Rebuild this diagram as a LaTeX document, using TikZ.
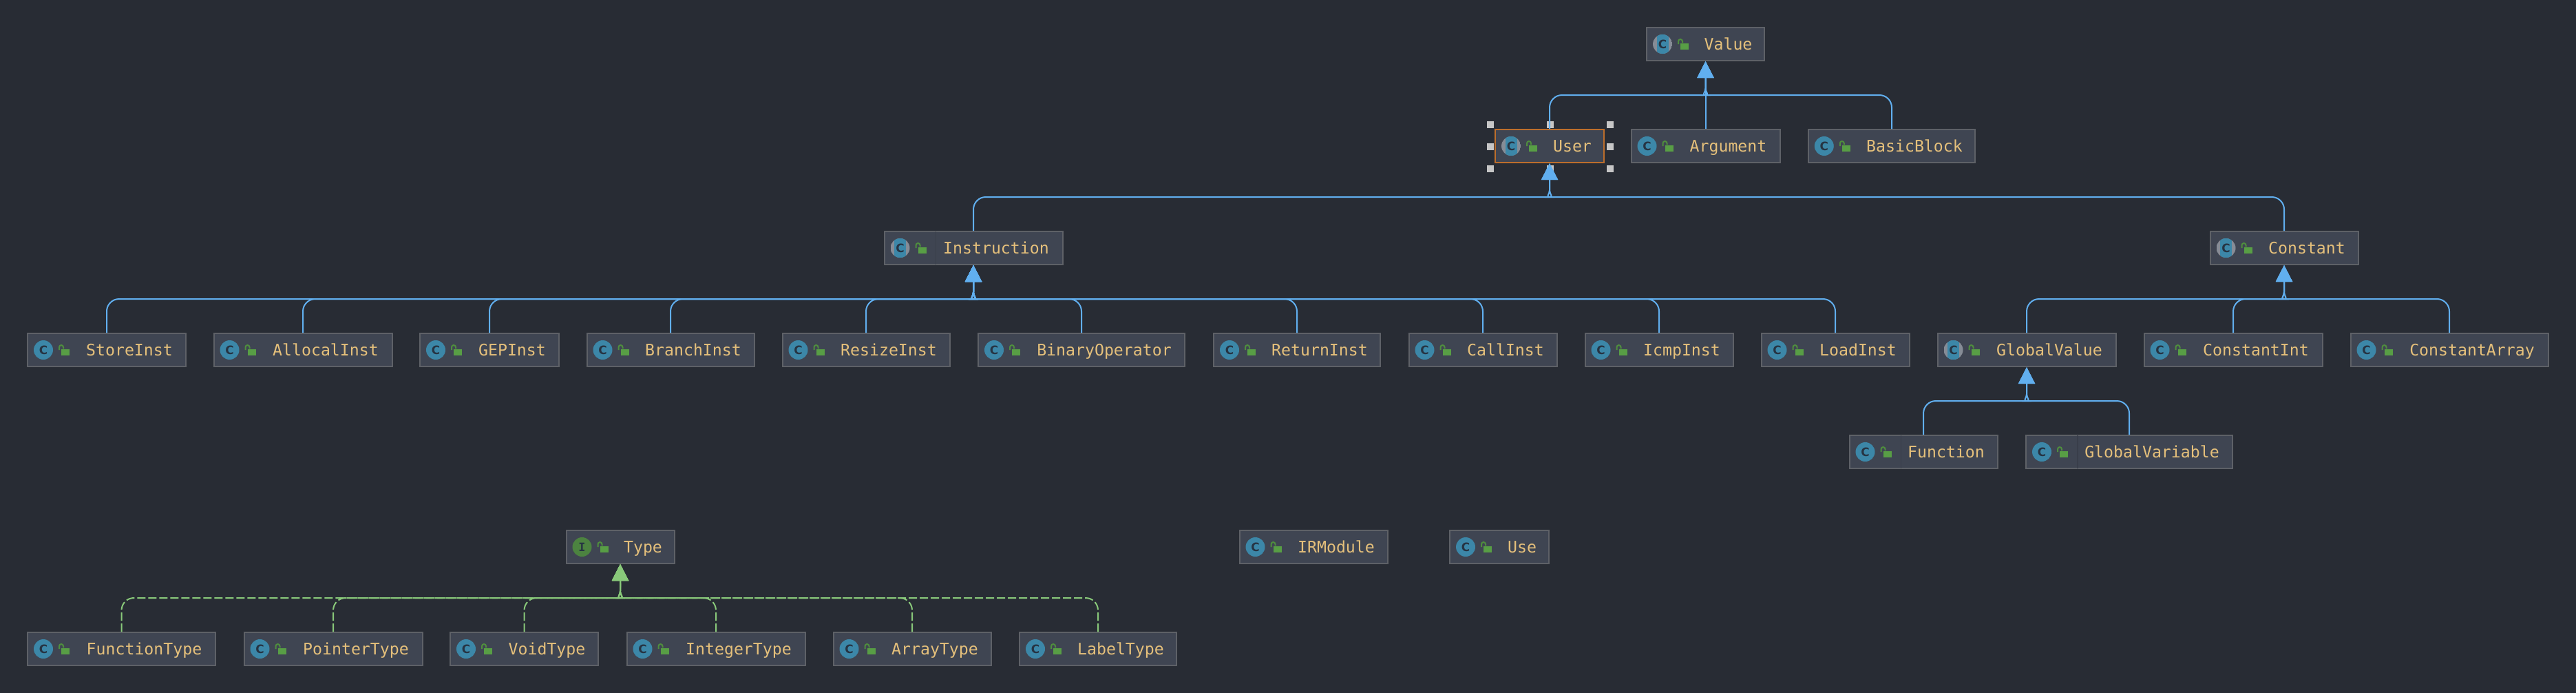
\documentclass[tikz,border=0pt]{standalone}
\usepackage{fontspec}
\usetikzlibrary{arrows.meta,calc}

\newfontfamily\labelfont{DejaVu Sans Mono}
\newfontfamily\iconfont{DejaVu Sans}

\definecolor{diagrambg}{HTML}{282C34}
\definecolor{boxfill}{HTML}{3F4552}
\definecolor{boxline}{HTML}{5E6167}
\definecolor{selline}{HTML}{BC6E2C}
\definecolor{labelcol}{HTML}{E5C07B}
\definecolor{extendcol}{HTML}{61AFEF}
\definecolor{implcol}{HTML}{89C97A}
\definecolor{iconblue}{HTML}{3C87A8}
\definecolor{icongrey}{HTML}{868C96}
\definecolor{icongreen}{HTML}{4C8340}
\definecolor{iconletter}{HTML}{263443}
\definecolor{lockcol}{HTML}{589E45}
\definecolor{dividercol}{HTML}{393E4A}

\tikzset{
  classbox/.style={draw=boxline,fill=boxfill,line width=.04cm,minimum height=.96cm,inner sep=0pt,
    text=labelcol,text height=.56cm,text depth=.24cm,font=\labelfont\fontsize{13.2}{16}\selectfont,
    execute at begin node={\hspace*{1.32cm}}},
  iconchar/.style={text=iconletter,inner sep=0pt,font=\iconfont\bfseries\fontsize{9.6}{10}\selectfont},
  handle/.style={fill=gray!45!white,minimum size=.2cm,inner sep=0pt},
  extendsline/.style={draw=extendcol,line width=.04cm,rounded corners=.36cm,
    -{Triangle[length=.48cm,width=.48cm,fill=extendcol]}},
  implline/.style={draw=implcol,line width=.04cm,rounded corners=.36cm,dash pattern=on .24cm off .08cm,
    -{Triangle[length=.48cm,width=.48cm,fill=implcol]}},
  divider/.style={draw=dividercol,line width=.03cm}
}

\newcommand{\lockicon}[1]{
  \fill[lockcol] ($(#1.west)+(1.00,.03)$) rectangle ($(#1.west)+(1.24,-.16)$);
  \draw[lockcol!90!black,line width=.04cm] ($(#1.west)+(.94,0)$) -- ($(#1.west)+(.94,.08)$) arc (180:0:.06) -- ($(#1.west)+(1.06,.04)$);
}
\newcommand{\classicon}[1]{
  \fill[iconblue] ($(#1.west)+(.48,0)$) circle (.28);
  \node[iconchar] (#1letter) at ($(#1.west)+(.48,0)$) {C};
  \lockicon{#1}
}
\newcommand{\abstracticon}[1]{
  \begin{scope}
    \clip ($(#1.west)+(.48,0)$) circle (.28);
    \fill[icongrey] ($(#1.west)+(.2,.28)$) rectangle ($(#1.west)+(.76,-.28)$);
    \fill[iconblue] ($(#1.west)+(.31,.28)$) rectangle ($(#1.west)+(.65,-.28)$);
  \end{scope}
  \node[iconchar] (#1letter) at ($(#1.west)+(.48,0)$) {C};
  \lockicon{#1}
}
\newcommand{\interfaceicon}[1]{
  \fill[icongreen] ($(#1.west)+(.48,0)$) circle (.28);
  \node[iconchar,font=\labelfont\bfseries\fontsize{9.6}{10}\selectfont] (#1letter) at ($(#1.west)+(.48,0)$) {I};
  \lockicon{#1}
}

\begin{document}
\begin{tikzpicture}
\fill[diagrambg] (0,0) rectangle (74.84,-20.12);
\useasboundingbox (0,0) rectangle (74.84,-20.12);

%Value Block
\node[classbox,minimum width=3.42cm] (value) at (49.55,-1.28) {Value}; \abstracticon{value}
\node[handle] (handlenw) at (43.30,-3.62) {};
\node[handle] (handlen) at (45.04,-3.62) {};
\node[handle] (handlene) at (46.78,-3.62) {};
\node[handle] (handlew) at (43.30,-4.26) {};
\node[handle] (handlee) at (46.78,-4.26) {};
\node[handle] (handlesw) at (43.30,-4.90) {};
\node[handle] (handles) at (45.04,-4.90) {};
\node[handle] (handlese) at (46.78,-4.90) {};
\node[classbox,draw=selline,minimum width=3.16cm] (user) at (45.02,-4.24) {User}; \abstracticon{user}
\node[classbox,minimum width=4.32cm] (argument) at (49.55,-4.24) {Argument}; \classicon{argument}
\node[classbox,minimum width=4.85cm] (basicblock) at (54.96,-4.24) {BasicBlock}; \classicon{basicblock}

%Instruction Block
\node[classbox,minimum width=5.18cm] (instruction) at (28.28,-7.20) {Instruction}; \abstracticon{instruction}
\node[classbox,minimum width=4.60cm] (storeinst) at (3.10,-10.16) {StoreInst}; \classicon{storeinst}
\node[classbox,minimum width=5.18cm] (allocalinst) at (8.80,-10.16) {AllocalInst}; \classicon{allocalinst}
\node[classbox,minimum width=4.04cm] (gepinst) at (14.22,-10.16) {GEPInst}; \classicon{gepinst}
\node[classbox,minimum width=4.86cm] (branchinst) at (19.48,-10.16) {BranchInst}; \classicon{branchinst}
\node[classbox,minimum width=4.86cm] (resizeinst) at (25.16,-10.16) {ResizeInst}; \classicon{resizeinst}
\node[classbox,minimum width=6.00cm] (binaryoperator) at (31.42,-10.16) {BinaryOperator}; \classicon{binaryoperator}
\node[classbox,minimum width=4.84cm] (returninst) at (37.68,-10.16) {ReturnInst}; \classicon{returninst}
\node[classbox,minimum width=4.30cm] (callinst) at (43.08,-10.16) {CallInst}; \classicon{callinst}
\node[classbox,minimum width=4.30cm] (icmpinst) at (48.20,-10.16) {IcmpInst}; \classicon{icmpinst}
\node[classbox,minimum width=4.30cm] (loadinst) at (53.32,-10.16) {LoadInst}; \classicon{loadinst}

%Constant Block
\node[classbox,minimum width=4.30cm] (constant) at (66.36,-7.20) {Constant}; \abstracticon{constant}
\node[classbox,minimum width=5.18cm] (globalvalue) at (58.88,-10.16) {GlobalValue}; \abstracticon{globalvalue}
\node[classbox,minimum width=5.18cm] (constantint) at (64.88,-10.16) {ConstantInt}; \classicon{constantint}
\node[classbox,minimum width=5.74cm] (constantarray) at (71.16,-10.16) {ConstantArray}; \classicon{constantarray}
\node[classbox,minimum width=4.30cm] (function) at (55.88,-13.12) {Function}; \classicon{function}
\node[classbox,minimum width=6.00cm] (globalvariable) at (61.86,-13.12) {GlobalVariable}; \classicon{globalvariable}

%Type Block
\node[classbox,minimum width=3.14cm] (type) at (18.02,-15.88) {Type}; \interfaceicon{type}
\node[classbox,minimum width=5.46cm] (functiontype) at (3.53,-18.84) {FunctionType}; \classicon{functiontype}
\node[classbox,minimum width=5.18cm] (pointertype) at (9.68,-18.84) {PointerType}; \classicon{pointertype}
\node[classbox,minimum width=4.30cm] (voidtype) at (15.23,-18.84) {VoidType}; \classicon{voidtype}
\node[classbox,minimum width=5.18cm] (integertype) at (20.80,-18.84) {IntegerType}; \classicon{integertype}
\node[classbox,minimum width=4.58cm] (arraytype) at (26.50,-18.84) {ArrayType}; \classicon{arraytype}
\node[classbox,minimum width=4.56cm] (labeltype) at (31.90,-18.84) {LabelType}; \classicon{labeltype}

%Einzelne Klassen
\node[classbox,minimum width=4.30cm] (irmodule) at (38.16,-15.88) {IRModule}; \classicon{irmodule}
\node[classbox,minimum width=2.88cm] (use) at (43.56,-15.88) {Use}; \classicon{use}

%Trennlinien
\draw[divider] ($(instruction.north west)+(1.52,-.02)$) -- ($(instruction.south west)+(1.52,.02)$);
\draw[divider] ($(function.north west)+(1.52,-.02)$) -- ($(function.south west)+(1.52,.02)$);
\draw[divider] ($(globalvariable.north west)+(1.52,-.02)$) -- ($(globalvariable.south west)+(1.52,.02)$);

%Sammelpunkte
\coordinate (valueleft) at (49.19,-2.76); \coordinate (valueright) at (49.91,-2.76); \coordinate (valuejoin) at (49.55,-2.56);
\coordinate (userleft) at (44.66,-5.72); \coordinate (userright) at (45.38,-5.72); \coordinate (userjoin) at (45.02,-5.52);
\coordinate (instleft) at (27.92,-8.68); \coordinate (instright) at (28.64,-8.68); \coordinate (instjoin) at (28.28,-8.48);
\coordinate (constleft) at (66.00,-8.68); \coordinate (constright) at (66.72,-8.68); \coordinate (constjoin) at (66.36,-8.48);
\coordinate (globalleft) at (58.52,-11.64); \coordinate (globalright) at (59.24,-11.64); \coordinate (globaljoin) at (58.88,-11.44);
\coordinate (typeleft) at (17.66,-17.36); \coordinate (typeright) at (18.38,-17.36); \coordinate (typejoin) at (18.02,-17.16);

%Verbindungen Value
\draw[extendsline] (user.north) |- (valueleft) [sharp corners] .. controls +(.24,0) and +(0,-.12) .. (valuejoin) -- (value.south);
\draw[extendsline] (argument.north) -- (value.south);
\draw[extendsline] (basicblock.north) |- (valueright) [sharp corners] .. controls +(-.24,0) and +(0,-.12) .. (valuejoin) -- (value.south);

%Verbindungen User
\draw[extendsline] (instruction.north) |- (userleft) [sharp corners] .. controls +(.24,0) and +(0,-.12) .. (userjoin) -- (user.south);
\draw[extendsline] (constant.north) |- (userright) [sharp corners] .. controls +(-.24,0) and +(0,-.12) .. (userjoin) -- (user.south);

%Verbindungen Instruction
\draw[extendsline] (storeinst.north) |- (instleft) [sharp corners] .. controls +(.24,0) and +(0,-.12) .. (instjoin) -- (instruction.south);
\draw[extendsline] (allocalinst.north) |- (instleft) [sharp corners] .. controls +(.24,0) and +(0,-.12) .. (instjoin) -- (instruction.south);
\draw[extendsline] (gepinst.north) |- (instleft) [sharp corners] .. controls +(.24,0) and +(0,-.12) .. (instjoin) -- (instruction.south);
\draw[extendsline] (branchinst.north) |- (instleft) [sharp corners] .. controls +(.24,0) and +(0,-.12) .. (instjoin) -- (instruction.south);
\draw[extendsline] (resizeinst.north) |- (instleft) [sharp corners] .. controls +(.24,0) and +(0,-.12) .. (instjoin) -- (instruction.south);
\draw[extendsline] (binaryoperator.north) |- (instright) [sharp corners] .. controls +(-.24,0) and +(0,-.12) .. (instjoin) -- (instruction.south);
\draw[extendsline] (returninst.north) |- (instright) [sharp corners] .. controls +(-.24,0) and +(0,-.12) .. (instjoin) -- (instruction.south);
\draw[extendsline] (callinst.north) |- (instright) [sharp corners] .. controls +(-.24,0) and +(0,-.12) .. (instjoin) -- (instruction.south);
\draw[extendsline] (icmpinst.north) |- (instright) [sharp corners] .. controls +(-.24,0) and +(0,-.12) .. (instjoin) -- (instruction.south);
\draw[extendsline] (loadinst.north) |- (instright) [sharp corners] .. controls +(-.24,0) and +(0,-.12) .. (instjoin) -- (instruction.south);

%Verbindungen Constant
\draw[extendsline] (globalvalue.north) |- (constleft) [sharp corners] .. controls +(.24,0) and +(0,-.12) .. (constjoin) -- (constant.south);
\draw[extendsline] (constantint.north) |- (constleft) [sharp corners] .. controls +(.24,0) and +(0,-.12) .. (constjoin) -- (constant.south);
\draw[extendsline] (constantarray.north) |- (constright) [sharp corners] .. controls +(-.24,0) and +(0,-.12) .. (constjoin) -- (constant.south);
\draw[extendsline] (function.north) |- (globalleft) [sharp corners] .. controls +(.24,0) and +(0,-.12) .. (globaljoin) -- (globalvalue.south);
\draw[extendsline] (globalvariable.north) |- (globalright) [sharp corners] .. controls +(-.24,0) and +(0,-.12) .. (globaljoin) -- (globalvalue.south);

%Verbindungen Type
\draw[implline] (functiontype.north) |- (typeleft) [sharp corners] .. controls +(.24,0) and +(0,-.12) .. (typejoin) -- (type.south);
\draw[implline] (pointertype.north) |- (typeleft) [sharp corners] .. controls +(.24,0) and +(0,-.12) .. (typejoin) -- (type.south);
\draw[implline] (voidtype.north) |- (typeleft) [sharp corners] .. controls +(.24,0) and +(0,-.12) .. (typejoin) -- (type.south);
\draw[implline] (integertype.north) |- (typeright) [sharp corners] .. controls +(-.24,0) and +(0,-.12) .. (typejoin) -- (type.south);
\draw[implline] (arraytype.north) |- (typeright) [sharp corners] .. controls +(-.24,0) and +(0,-.12) .. (typejoin) -- (type.south);
\draw[implline] (labeltype.north) |- (typeright) [sharp corners] .. controls +(-.24,0) and +(0,-.12) .. (typejoin) -- (type.south);

\end{tikzpicture}
\end{document}
